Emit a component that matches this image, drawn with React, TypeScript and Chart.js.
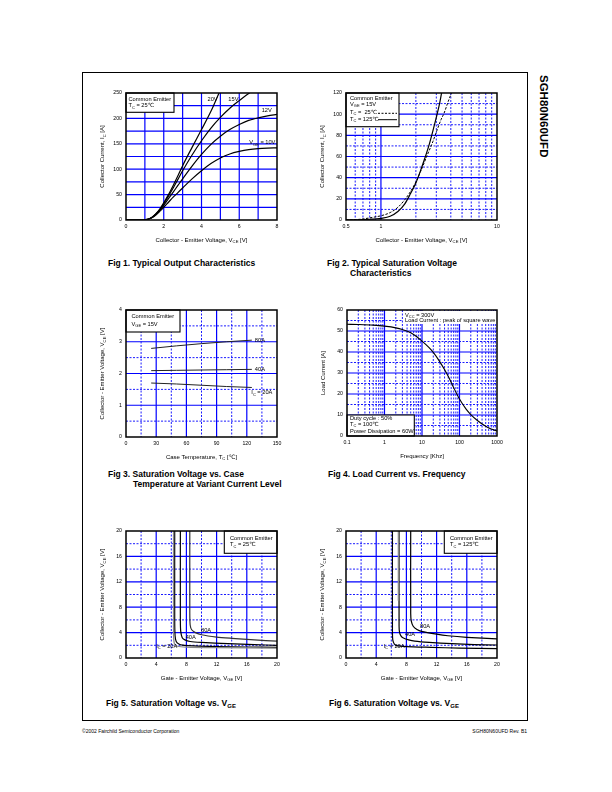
import React, { useEffect, useRef } from "react";
import { Chart, registerables } from "chart.js";
Chart.register(...registerables);

const FONT = '"Liberation Sans", Arial, "DejaVu Sans", sans-serif';
const BLUE = "#0000ff";

type Pt = [number, number];
type Part = [string, boolean?];

// ---------------- Fig 1 : Typical Output Characteristics ----------------
const fig1XTicks = [0, 2, 4, 6, 8];
const fig1YTicks = [0, 50, 100, 150, 200, 250];
const fig1XGrid = [1, 2, 3, 4, 5, 6, 7];
const fig1YGrid = [25, 50, 75, 100, 125, 150, 175, 200, 225];
const fig1Vge20: Pt[] = [[0, 0], [0.8, 0], [1.0, 0.5], [1.2, 2], [1.4, 6], [1.6, 13], [1.8, 22], [2.0, 34], [2.25, 50], [2.5, 68], [2.75, 87], [3.0, 107], [3.5, 143], [4.0, 178], [4.5, 214], [4.93, 250]];
const fig1Vge15: Pt[] = [[0, 0], [0.8, 0], [1.0, 0.5], [1.2, 2], [1.4, 6], [1.6, 12.5], [1.8, 21], [2.0, 32], [2.25, 47], [2.5, 63], [2.75, 80], [3.0, 97], [3.5, 128], [4.0, 156], [4.5, 181], [5.0, 202], [5.5, 220], [6.0, 235], [6.5, 249], [6.55, 250]];
const fig1Vge12: Pt[] = [[0, 0], [0.8, 0], [1.0, 0.5], [1.2, 2], [1.4, 5.5], [1.6, 11.5], [1.8, 19.5], [2.0, 29], [2.25, 42], [2.5, 55], [2.75, 68], [3.0, 81], [3.5, 106], [4.0, 129], [4.5, 149], [5.0, 165], [5.5, 178], [6.0, 188], [6.5, 196], [7.0, 201], [7.5, 205], [8.0, 208]];
const fig1Vge10: Pt[] = [[0, 0], [0.8, 0], [1.0, 0.5], [1.2, 2], [1.4, 5], [1.6, 10.5], [1.8, 17.5], [2.0, 25], [2.25, 35], [2.5, 45], [2.75, 54], [3.0, 63], [3.5, 81], [4.0, 97], [4.5, 111], [5.0, 122], [5.5, 130], [6.0, 135], [6.5, 138.5], [7.0, 140.5], [7.5, 141.5], [8.0, 142]];

// ---------------- Fig 2 : Typical Saturation Voltage ----------------
const fig2XTicks = [0.5, 1, 10];
const fig2YTicks = [0, 20, 40, 60, 80, 100, 120];
const fig2XGridSolid = [1];
const fig2XGridDashed = [0.6, 0.7, 0.8, 0.9, 2, 3, 4, 5, 6, 7, 8, 9];
const fig2YGridSolid = [20, 40, 60, 80, 100];
const fig2YGridDashed = [10, 30, 50, 70, 90, 110];
const fig2Tc25: Pt[] = [[0.5, 0], [0.6, 0.3], [0.7, 1], [0.8, 2], [0.9, 3], [1, 4], [1.2, 7], [1.4, 12], [1.6, 19], [1.8, 27], [2, 36], [2.2, 46], [2.5, 61], [2.8, 74], [3, 83], [3.3, 95], [3.5, 101], [3.8, 112], [4.05, 120]];
const fig2Tc125: Pt[] = [[0.5, 0], [0.7, 0.3], [0.8, 0.7], [0.9, 1.1], [1, 1.6], [1.2, 3.5], [1.4, 8], [1.6, 15], [1.8, 25], [2, 35], [2.2, 47], [2.4, 59], [2.6, 71], [2.8, 84], [3, 97], [3.2, 110], [3.33, 120]];

// ---------------- Fig 3 : Saturation Voltage vs. Case Temperature ----------------
const fig3XTicks = [0, 30, 60, 90, 120, 150];
const fig3YTicks = [0, 1, 2, 3, 4];
const fig3XGridSolid = [30, 60, 90, 120];
const fig3XGridDashed = [15, 45, 75, 105, 135];
const fig3YGridSolid = [1, 2, 3];
const fig3YGridDashed = [0.5, 1.5, 2.5, 3.5];
const fig3Ic80: Pt[] = [[25, 2.79], [50, 2.87], [75, 2.94], [100, 3.0], [125, 3.05]];
const fig3Ic40: Pt[] = [[25, 2.09], [50, 2.1], [75, 2.11], [100, 2.12], [125, 2.13]];
const fig3Ic20: Pt[] = [[25, 1.7], [50, 1.67], [75, 1.63], [100, 1.59], [125, 1.56]];

// ---------------- Fig 4 : Load Current vs. Frequency ----------------
const fig4XTicks = [0.1, 1, 10, 100, 1000];
const fig4YTicks = [0, 10, 20, 30, 40, 50, 60];
const fig4XGridSolid = [1, 10, 100];
const fig4XGridDashed = [0.2, 0.3, 0.4, 0.5, 0.6, 0.7, 0.8, 0.9, 2, 3, 4, 5, 6, 7, 8, 9, 20, 30, 40, 50, 60, 70, 80, 90, 200, 300, 400, 500, 600, 700, 800, 900];
const fig4YGridSolid = [10, 20, 30, 40, 50];
const fig4YGridDashed = [5, 15, 25, 35, 45, 55];
const fig4Load: Pt[] = [[0.1, 53.2], [0.2, 53.1], [0.5, 52.8], [1, 52.3], [2, 51.5], [3, 50.7], [5, 49.2], [7, 47.5], [10, 45.2], [15, 42.3], [20, 39.8], [30, 35.3], [50, 28.5], [70, 23], [100, 17.6], [150, 12.8], [200, 10.2], [300, 7.4], [500, 4.6], [700, 3.3], [1000, 2.4]];

// ---------------- Fig 5 / Fig 6 : Saturation Voltage vs. VGE ----------------
const fig56XTicks = [0, 4, 8, 12, 16, 20];
const fig56YTicks = [0, 4, 8, 12, 16, 20];
const fig56GridSolid = [4, 8, 12, 16];
const fig56GridDashed = [2, 6, 10, 14, 18];
const fig5Ic20: Pt[] = [[6.45, 20], [6.45, 6], [6.5, 3.5], [6.65, 2.6], [7.0, 2.2], [7.5, 2.02], [9, 1.9], [12, 1.8], [16, 1.73], [20, 1.68]];
const fig5Ic20b: Pt[] = [[6.3, 20], [6.3, 4], [6.4, 2.3], [6.8, 1.85], [8, 1.7], [12, 1.62], [20, 1.55]];
const fig5Ic40: Pt[] = [[7.2, 20], [7.2, 6], [7.25, 4.2], [7.45, 3.2], [7.8, 2.85], [8.5, 2.6], [10, 2.45], [13.5, 2.25], [17, 2.1], [20, 2.0]];
const fig5Ic80: Pt[] = [[8.45, 20], [8.45, 7], [8.5, 5.2], [8.7, 4.45], [9.2, 4.0], [10, 3.66], [12, 3.3], [14, 3.1], [17, 2.85], [20, 2.65]];
const fig6Ic20: Pt[] = [[6.15, 20], [6.15, 4], [6.2, 2.8], [6.4, 2.2], [6.7, 1.95], [8, 1.8], [11.3, 1.68], [15, 1.56], [20, 1.47]];
const fig6Ic40: Pt[] = [[7.03, 20], [7.03, 5], [7.1, 4.0], [7.3, 3.45], [7.6, 3.15], [8.3, 2.85], [9.1, 2.65], [11, 2.45], [14, 2.25], [17, 2.12], [20, 2.05]];
const fig6Ic40b: Pt[] = [[6.95, 20], [6.95, 9]];
const fig6Ic80: Pt[] = [[8.57, 20], [8.57, 7], [8.65, 5.8], [8.9, 5.0], [9.4, 4.5], [10, 4.2], [12, 3.75], [13.5, 3.5], [16, 3.25], [20, 3.0]];

// ---------------- helpers ----------------
function richWidth(ctx: CanvasRenderingContext2D, parts: Part[], size: number) {
  let w = 0;
  for (const [t, sub] of parts) {
    ctx.font = `${sub ? size * 0.7 : size}px ${FONT}`;
    w += ctx.measureText(t).width;
  }
  return w;
}
function drawRich(ctx: CanvasRenderingContext2D, parts: Part[], x: number, y: number, size: number, align: string = "left") {
  const w = richWidth(ctx, parts, size);
  let cx = align === "center" ? x - w / 2 : align === "right" ? x - w : x;
  ctx.textBaseline = "middle";
  ctx.textAlign = "left";
  ctx.fillStyle = "#000";
  for (const [t, sub] of parts) {
    const s = sub ? size * 0.7 : size;
    ctx.font = `${s}px ${FONT}`;
    ctx.fillText(t, cx, sub ? y + size * 0.32 : y);
    cx += ctx.measureText(t).width;
  }
}

function makeDecor(s: any) {
  return {
    id: "decor",
    beforeDatasetsDraw(chart: any) {
      const { ctx, chartArea: a } = chart;
      const xs = chart.scales.x;
      const ys = chart.scales.y;
      ctx.save();
      ctx.strokeStyle = BLUE;
      const line = (x1: number, y1: number, x2: number, y2: number, dashed: boolean) => {
        ctx.lineWidth = dashed ? 0.9 : 1.2;
        ctx.setLineDash(dashed ? [2, 1.5] : []);
        ctx.beginPath();
        ctx.moveTo(x1, y1);
        ctx.lineTo(x2, y2);
        ctx.stroke();
      };
      (s.xDashed || []).forEach((v: number) => { const p = xs.getPixelForValue(v); line(p, a.top, p, a.bottom, true); });
      (s.yDashed || []).forEach((v: number) => { const p = ys.getPixelForValue(v); line(a.left, p, a.right, p, true); });
      (s.xSolid || []).forEach((v: number) => { const p = xs.getPixelForValue(v); line(p, a.top, p, a.bottom, false); });
      (s.ySolid || []).forEach((v: number) => { const p = ys.getPixelForValue(v); line(a.left, p, a.right, p, false); });
      ctx.restore();
    },
    afterDatasetsDraw(chart: any) {
      const { ctx, chartArea: a } = chart;
      const xs = chart.scales.x;
      const ys = chart.scales.y;
      const ox = s.left;
      const oy = s.top;
      ctx.save();
      (s.labels || []).forEach((l: any) => {
        drawRich(ctx, l.parts, xs.getPixelForValue(l.x), ys.getPixelForValue(l.y), 5.7, l.align || "left");
      });
      (s.boxes || []).forEach((b: any) => {
        ctx.fillStyle = "#fff";
        ctx.fillRect(b.x1 - ox, b.y1 - oy, b.x2 - b.x1, b.y2 - b.y1);
        if (b.border !== false) {
          ctx.strokeStyle = "#000";
          ctx.lineWidth = 1.1;
          ctx.setLineDash([]);
          ctx.strokeRect(b.x1 - ox, b.y1 - oy, b.x2 - b.x1, b.y2 - b.y1);
        }
        (b.lines || []).forEach((ln: any) => drawRich(ctx, ln.parts, ln.x - ox, ln.y - oy, 5.7));
        (b.samples || []).forEach((sm: any) => {
          ctx.strokeStyle = "#000";
          ctx.lineWidth = 1;
          ctx.setLineDash(sm.dash || []);
          ctx.beginPath();
          ctx.moveTo(sm.x1 - ox, sm.y - oy);
          ctx.lineTo(sm.x2 - ox, sm.y - oy);
          ctx.stroke();
        });
      });
      ctx.setLineDash([]);
      ctx.strokeStyle = "#000";
      ctx.lineWidth = 1.5;
      ctx.strokeRect(a.left, a.top, a.right - a.left, a.bottom - a.top);
      drawRich(ctx, s.xTitle, (a.left + a.right) / 2, a.bottom + 20, 6, "center");
      ctx.translate(a.left - 23.5, (a.top + a.bottom) / 2);
      ctx.rotate(-Math.PI / 2);
      drawRich(ctx, s.yTitle, 0, 0, 6, "center");
      ctx.restore();
    },
  };
}

function buildConfig(s: any): any {
  const p = s.plot;
  const padTop = p.t - s.top;
  const padRight = s.left + s.width - p.r;
  const yW = p.l - s.left;
  const xH = s.top + s.height - p.b;
  const tickFont = { family: FONT, size: 5.2 };
  return {
    type: "scatter",
    data: {
      datasets: s.series.map((sr: any) => ({
        data: sr.pts.map(([x, y]: Pt) => ({ x, y })),
        showLine: true,
        pointRadius: 0,
        pointHoverRadius: 0,
        borderColor: sr.color || "#000",
        borderWidth: sr.width || 1.2,
        borderDash: sr.dash || [],
        tension: sr.tension ?? 0,
        cubicInterpolationMode: sr.mono ? "monotone" : "default",
        fill: false,
      })),
    },
    options: {
      animation: false,
      responsive: false,
      maintainAspectRatio: false,
      events: [],
      layout: { padding: { left: 0, top: padTop, right: padRight, bottom: 0 } },
      plugins: { legend: { display: false }, tooltip: { enabled: false }, title: { display: false } },
      scales: {
        x: {
          type: s.xType,
          min: s.xMin,
          max: s.xMax,
          position: "bottom",
          afterBuildTicks: (sc: any) => { sc.ticks = s.xTicks.map((v: number) => ({ value: v })); },
          afterFit: (sc: any) => { sc.height = xH; },
          ticks: { font: tickFont, color: "#000", padding: 3.5, autoSkip: false, maxRotation: 0, minRotation: 0, callback: (v: any) => String(v) },
          grid: { display: false, drawTicks: false, tickLength: 0 },
          border: { display: false },
        },
        y: {
          type: "linear",
          min: s.yMin,
          max: s.yMax,
          position: "left",
          afterBuildTicks: (sc: any) => { sc.ticks = s.yTicks.map((v: number) => ({ value: v })); },
          afterFit: (sc: any) => { sc.width = yW; },
          ticks: { font: tickFont, color: "#000", padding: 4, autoSkip: false, callback: (v: any) => String(v) },
          grid: { display: false, drawTicks: false, tickLength: 0 },
          border: { display: false },
        },
      },
    },
    plugins: [makeDecor(s)],
  };
}

const TC: Part[] = [["T"], ["C", true]];

const fig1Spec = {
  left: 92, top: 85, width: 195, height: 165,
  plot: { l: 126, t: 93, r: 277, b: 220 },
  xType: "linear", xMin: 0, xMax: 8, yMin: 0, yMax: 250,
  xTicks: fig1XTicks, yTicks: fig1YTicks,
  xSolid: fig1XGrid, ySolid: fig1YGrid,
  series: [
    { pts: fig1Vge20, mono: true },
    { pts: fig1Vge15, mono: true },
    { pts: fig1Vge12, mono: true },
    { pts: fig1Vge10, mono: true },
  ],
  labels: [
    { x: 4.32, y: 238, parts: [["20V"]] },
    { x: 5.42, y: 238, parts: [["15V"]] },
    { x: 7.19, y: 215, parts: [["12V"]] },
    { x: 6.53, y: 152, parts: [["V"], ["GE", true], [" = 10V"]] },
  ],
  boxes: [
    { x1: 126, y1: 93, x2: 174, y2: 112.3, lines: [{ x: 128.5, y: 99, parts: [["Common Emitter"]] }, { x: 128.5, y: 105.7, parts: [...TC, [" = 25\u2103"]] }] },
  ],
  xTitle: [["Collector - Emitter Voltage, V"], ["CE", true], [" [V]"]],
  yTitle: [["Collector Current, I"], ["C", true], [" [A]"]],
};

const fig2Spec = {
  left: 312, top: 85, width: 195, height: 165,
  plot: { l: 346, t: 93, r: 497, b: 220 },
  xType: "logarithmic", xMin: 0.5, xMax: 10, yMin: 0, yMax: 120,
  xTicks: fig2XTicks, yTicks: fig2YTicks,
  xSolid: fig2XGridSolid, xDashed: fig2XGridDashed, ySolid: fig2YGridSolid, yDashed: fig2YGridDashed,
  series: [
    { pts: fig2Tc25, mono: true, dash: [2.5, 1.5], width: 1 },
    { pts: fig2Tc125, mono: true, width: 1.2 },
  ],
  labels: [],
  boxes: [
    {
      x1: 346, y1: 93, x2: 399, y2: 126.7,
      lines: [
        { x: 350, y: 98.3, parts: [["Common Emitter"]] },
        { x: 350, y: 104, parts: [["V"], ["GE", true], [" = 15V"]] },
        { x: 350, y: 112.3, parts: [...TC, [" =  25\u2103"]] },
        { x: 350, y: 119, parts: [...TC, [" = 125\u2103"]] },
      ],
      samples: [
        { x1: 378, x2: 397, y: 113.3, dash: [2, 1.5] },
        { x1: 378, x2: 397, y: 119.7 },
      ],
    },
  ],
  xTitle: [["Collector - Emitter Voltage, V"], ["CE", true], [" [V]"]],
  yTitle: [["Collector Current, I"], ["C", true], [" [A]"]],
};

const fig3Spec = {
  left: 92, top: 302, width: 195, height: 165,
  plot: { l: 126, t: 310, r: 277, b: 437 },
  xType: "linear", xMin: 0, xMax: 150, yMin: 0, yMax: 4,
  xTicks: fig3XTicks, yTicks: fig3YTicks,
  xSolid: fig3XGridSolid, xDashed: fig3XGridDashed, ySolid: fig3YGridSolid, yDashed: fig3YGridDashed,
  series: [
    { pts: fig3Ic80, color: "#222", width: 1 },
    { pts: fig3Ic40, color: "#222", width: 1 },
    { pts: fig3Ic20, color: "#222", width: 1 },
  ],
  labels: [
    { x: 128, y: 3.05, parts: [["80A"]] },
    { x: 128, y: 2.13, parts: [["40A"]] },
    { x: 124.5, y: 1.39, parts: [["I"], ["C", true], [" = 20A"]] },
  ],
  boxes: [
    { x1: 126, y1: 310, x2: 180, y2: 332, lines: [{ x: 131.5, y: 316.7, parts: [["Common Emitter"]] }, { x: 131.5, y: 324, parts: [["V"], ["GE", true], [" = 15V"]] }] },
  ],
  xTitle: [["Case Temperature, T"], ["C", true], [" [\u2103]"]],
  yTitle: [["Collector - Emitter Voltage, V"], ["CE", true], [" [V]"]],
};

const fig4Spec = {
  left: 312, top: 302, width: 197, height: 165,
  plot: { l: 347, t: 310, r: 497, b: 436 },
  xType: "logarithmic", xMin: 0.1, xMax: 1000, yMin: 0, yMax: 60,
  xTicks: fig4XTicks, yTicks: fig4YTicks,
  xSolid: fig4XGridSolid, xDashed: fig4XGridDashed, ySolid: fig4YGridSolid, yDashed: fig4YGridDashed,
  series: [{ pts: fig4Load, mono: true, width: 1.1 }],
  labels: [],
  boxes: [
    {
      x1: 403, y1: 311, x2: 496.3, y2: 324, border: false,
      lines: [
        { x: 405, y: 315, parts: [["V"], ["CC", true], [" = 300V"]] },
        { x: 405, y: 320.7, parts: [["Load Current : peak of square wave"]] },
      ],
    },
    {
      x1: 347, y1: 415, x2: 414.3, y2: 436,
      lines: [
        { x: 350, y: 418.3, parts: [["Duty cycle : 50%"]] },
        { x: 350, y: 424.3, parts: [...TC, [" = 100\u2103"]] },
        { x: 350, y: 431.7, parts: [["Power Dissipation = 60W"]] },
      ],
    },
  ],
  xTitle: [["Frequency [Khz]"]],
  yTitle: [["Load Current [A]"]],
};

const fig5Spec = {
  left: 92, top: 523, width: 195, height: 165,
  plot: { l: 126, t: 531, r: 277, b: 658 },
  xType: "linear", xMin: 0, xMax: 20, yMin: 0, yMax: 20,
  xTicks: fig56XTicks, yTicks: fig56YTicks,
  xSolid: fig56GridSolid, xDashed: fig56GridDashed, ySolid: fig56GridSolid, yDashed: fig56GridDashed,
  series: [
    { pts: fig5Ic20b, color: "#888", width: 1.3, tension: 0.25 },
    { pts: fig5Ic20, tension: 0.25 },
    { pts: fig5Ic40, tension: 0.25 },
    { pts: fig5Ic80, tension: 0.25, color: "#333" },
  ],
  labels: [
    { x: 9.93, y: 4.29, parts: [["80A"]] },
    { x: 7.9, y: 3.3, parts: [["40A"]] },
    { x: 4.0, y: 1.83, parts: [["I"], ["C", true], [" = 20A"]] },
  ],
  boxes: [
    { x1: 224.3, y1: 531, x2: 277, y2: 553.3, lines: [{ x: 230, y: 538.3, parts: [["Common Emitter"]] }, { x: 230, y: 544.7, parts: [...TC, [" = 25\u2103"]] }] },
  ],
  xTitle: [["Gate - Emitter Voltage, V"], ["GE", true], [" [V]"]],
  yTitle: [["Collector - Emitter Voltage, V"], ["CE", true], [" [V]"]],
};

const fig6Spec = {
  left: 312, top: 523, width: 195, height: 165,
  plot: { l: 346, t: 531, r: 497, b: 658 },
  xType: "linear", xMin: 0, xMax: 20, yMin: 0, yMax: 20,
  xTicks: fig56XTicks, yTicks: fig56YTicks,
  xSolid: fig56GridSolid, xDashed: fig56GridDashed, ySolid: fig56GridSolid, yDashed: fig56GridDashed,
  series: [
    { pts: fig6Ic40b, color: "#888", width: 1.5 },
    { pts: fig6Ic20, tension: 0.25 },
    { pts: fig6Ic40, tension: 0.25 },
    { pts: fig6Ic80, tension: 0.25 },
  ],
  labels: [
    { x: 9.8, y: 4.96, parts: [["80A"]] },
    { x: 7.82, y: 3.66, parts: [["40A"]] },
    { x: 4.96, y: 1.83, parts: [["I"], ["C", true], [" = 20A"]] },
  ],
  boxes: [
    { x1: 444.3, y1: 531, x2: 497, y2: 553.3, lines: [{ x: 450, y: 538.3, parts: [["Common Emitter"]] }, { x: 450, y: 544.7, parts: [...TC, [" = 125\u2103"]] }] },
  ],
  xTitle: [["Gate - Emitter Voltage, V"], ["GE", true], [" [V]"]],
  yTitle: [["Collector - Emitter Voltage, V"], ["CE", true], [" [V]"]],
};

function Plot({ spec }: { spec: any }) {
  const ref = useRef<HTMLCanvasElement>(null);
  useEffect(() => {
    if (!ref.current) return;
    const chart = new Chart(ref.current, buildConfig(spec));
    return () => chart.destroy();
  }, [spec]);
  return (
    <canvas
      ref={ref}
      width={spec.width}
      height={spec.height}
      style={{ position: "absolute", left: spec.left, top: spec.top, width: spec.width, height: spec.height }}
    />
  );
}

const capStyle = (left: number, cy: number): React.CSSProperties => ({
  position: "absolute",
  left,
  top: cy - 5,
  lineHeight: "10px",
  fontSize: "8.5px",
  fontWeight: "bold",
  fontFamily: FONT,
  whiteSpace: "nowrap",
  color: "#000",
});
const subStyle: React.CSSProperties = { fontSize: "6px", position: "relative", top: "2px" };

export default function App() {
  return (
    <div style={{ position: "absolute", left: 0, top: 0, width: 612, height: 792, background: "#fff", fontFamily: FONT, overflow: "hidden" }}>
      <div style={{ position: "absolute", left: 81.5, top: 71.5, width: 446, height: 649, border: "1.5px solid #000", boxSizing: "border-box" }} />
      <div
        style={{
          position: "absolute", left: 549, top: 75, transformOrigin: "0 0", transform: "rotate(90deg)",
          fontSize: "11.5px", fontWeight: "bold", lineHeight: "11px", whiteSpace: "nowrap", fontFamily: FONT,
        }}
      >
        SGH80N60UFD
      </div>

      <Plot spec={fig1Spec} />
      <Plot spec={fig2Spec} />
      <Plot spec={fig3Spec} />
      <Plot spec={fig4Spec} />
      <Plot spec={fig5Spec} />
      <Plot spec={fig6Spec} />

      <div style={capStyle(108, 263)}>Fig 1. Typical Output Characteristics</div>
      <div style={capStyle(327, 263)}>Fig 2. Typical Saturation Voltage</div>
      <div style={capStyle(350, 273)}>Characteristics</div>
      <div style={capStyle(108, 474)}>Fig 3. Saturation Voltage vs. Case</div>
      <div style={capStyle(133, 484)}>Temperature at Variant Current Level</div>
      <div style={capStyle(328, 474)}>Fig 4. Load Current vs. Frequency</div>
      <div style={capStyle(106, 703)}>Fig 5. Saturation Voltage vs. V<span style={subStyle}>GE</span></div>
      <div style={capStyle(329, 703)}>Fig 6. Saturation Voltage vs. V<span style={subStyle}>GE</span></div>

      <div style={{ position: "absolute", left: 82, top: 727, fontSize: "5px", lineHeight: "8px", whiteSpace: "nowrap" }}>
        ©2002 Fairchild Semiconductor Corporation
      </div>
      <div style={{ position: "absolute", left: 327, width: 200, top: 727, fontSize: "5px", lineHeight: "8px", textAlign: "right", whiteSpace: "nowrap" }}>
        SGH80N60UFD Rev. B1
      </div>
    </div>
  );
}
